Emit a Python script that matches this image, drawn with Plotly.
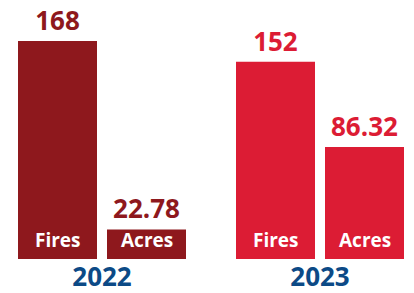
import plotly.graph_objects as go

years = ["2022", "2023"]
fires = [168, 152]
acres = [22.78, 86.32]
measure_labels = ["Fires", "Acres"]
year_colors = ["#8E181D", "#DC1C34"]
year_label_color = "#0C4A86"

FONT = "Open Sans"
BARGAP = 0.1835
BARGROUPGAP = 0.1124

def fmt(v):
    return f"{v:g}"

fig = go.Figure()
for name, vals in zip(measure_labels, [fires, acres]):
    fig.add_trace(go.Bar(
        x=years, y=vals, name=name,
        marker=dict(color=year_colors, line=dict(width=0)),
        text=[fmt(v) for v in vals], textposition="outside",
        textfont=dict(family=FONT, size=26, color=year_colors, weight=700),
        cliponaxis=False, showlegend=False, hoverinfo="skip",
    ))

# measure labels inside the bars, at their base
slot = (1 - BARGAP) / len(measure_labels)
for i, _ in enumerate(years):
    for j, name in enumerate(measure_labels):
        offset = -(1 - BARGAP) / 2 + slot * (j + 0.5)
        fig.add_annotation(
            x=i + offset, y=0, xref="x", yref="y",
            text=name, showarrow=False,
            xanchor="center", yanchor="bottom", yshift=4,
            font=dict(family=FONT, size=19, color="white", weight=700),
        )

fig.update_layout(
    width=414, height=293,
    margin=dict(l=0, r=0, t=0, b=34),
    paper_bgcolor="white", plot_bgcolor="white",
    barmode="group", bargap=BARGAP, bargroupgap=BARGROUPGAP,
    xaxis=dict(
        type="category", range=[-0.4679, 1.4312],
        showgrid=False, zeroline=False, showline=False, ticks="",
        tickfont=dict(family=FONT, size=26, color=year_label_color, weight=700),
        automargin=False,
    ),
    yaxis=dict(range=[0, 199.5], visible=False, automargin=False),
)

fig.write_html("out.html", config={"displayModeBar": False},
               post_script="document.body.style.margin='0';")
